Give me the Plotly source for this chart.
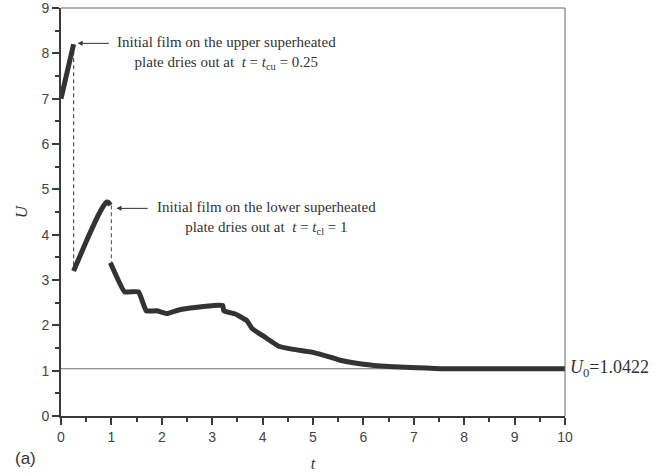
import plotly.graph_objects as go

# Dimensionless time and velocity for the three film stages
t_stage1 = [0.0, 0.25]
u_stage1 = [7.0, 8.2]

t_stage2 = [0.25, 0.5, 0.75, 0.86, 0.91, 0.95, 0.98]
u_stage2 = [3.2, 3.85, 4.45, 4.66, 4.72, 4.70, 4.65]

t_stage3 = [0.98, 1.26, 1.54, 1.69, 1.9, 2.1, 2.37, 3.03, 3.21, 3.23, 3.46, 3.69, 3.79,
            4.02, 4.32, 4.61, 4.98, 5.34, 5.54, 6.0, 6.5, 6.93, 7.53, 8.0, 9.0, 10.0]
u_stage3 = [3.38, 2.74, 2.74, 2.32, 2.32, 2.26, 2.35, 2.44, 2.44, 2.32, 2.25, 2.1, 1.93,
            1.76, 1.54, 1.47, 1.41, 1.30, 1.23, 1.14, 1.09, 1.07, 1.045, 1.0422, 1.0422, 1.0422]

U0 = 1.0422
t_cu = 0.25
t_cl = 1.0

x_ticks = list(range(0, 11))
y_ticks = list(range(0, 10))

curve_color = "#333333"
serif = "Liberation Serif"
sans = "Liberation Sans"

fig = go.Figure()

# Steady-state reference level
fig.add_trace(go.Scatter(x=[0, 10], y=[U0, U0], mode="lines",
                         line=dict(color="#707070", width=1), hoverinfo="skip"))

# Dry-out jumps (dashed)
fig.add_trace(go.Scatter(x=[t_cu, t_cu], y=[u_stage1[-1], u_stage2[0]], mode="lines",
                         line=dict(color="#555555", width=1.2, dash="4px,3px")))
fig.add_trace(go.Scatter(x=[t_cl, t_cl], y=[u_stage2[-1], u_stage3[0]], mode="lines",
                         line=dict(color="#666666", width=1.2, dash="4px,3px")))

for tx, uy in [(t_stage1, u_stage1), (t_stage2, u_stage2), (t_stage3, u_stage3)]:
    fig.add_trace(go.Scatter(x=tx, y=uy, mode="lines",
                             line=dict(color=curve_color, width=5, shape="spline",
                                       smoothing=0.3)))

ann_font = dict(family=serif, size=15, color="#333333")

# Arrows pointing at the dry-out instants
fig.add_annotation(x=0.33, y=8.22, ax=0.98, ay=8.22,
                   axref="x", ayref="y", xref="x", yref="y", text="",
                   showarrow=True, arrowhead=2, arrowsize=1, arrowwidth=1,
                   arrowcolor="#333333")
fig.add_annotation(x=1.10, y=4.58, ax=1.75, ay=4.58,
                   axref="x", ayref="y", xref="x", yref="y", text="",
                   showarrow=True, arrowhead=2, arrowsize=1, arrowwidth=1,
                   arrowcolor="#333333")

fig.add_annotation(x=1.08, y=8.0, xref="x", yref="y", xanchor="left", yanchor="middle",
                   showarrow=False, align="center", font=ann_font,
                   text="Initial film on the upper superheated<br>"
                        "plate dries out at  <i>t</i> = <i>t</i><sub>cu</sub> = 0.25")
fig.add_annotation(x=1.87, y=4.36, xref="x", yref="y", xanchor="left", yanchor="middle",
                   showarrow=False, align="center", font=ann_font,
                   text="Initial film on the lower superheated<br>"
                        "plate dries out at  <i>t</i> = <i>t</i><sub>cl</sub> = 1")

fig.add_annotation(x=10, y=U0, xref="x", yref="y", xanchor="left", yanchor="middle",
                   xshift=3, showarrow=False,
                   font=dict(family=serif, size=18, color="#333333"),
                   text="<i>U</i><sub>0</sub>=1.0422")

fig.add_annotation(x=0.0, y=0.0, xref="paper", yref="paper", xanchor="left",
                   yanchor="middle", xshift=-48, yshift=-42, showarrow=False,
                   font=dict(family=sans, size=17, color="#333333"), text="(a)")

# Thin frame on the top and right sides
fig.add_shape(type="line", xref="paper", yref="paper", x0=0, x1=1, y0=1, y1=1,
              line=dict(color="#666666", width=1))
fig.add_shape(type="line", xref="paper", yref="paper", x0=1, x1=1, y0=0, y1=1,
              line=dict(color="#666666", width=1))

axis_common = dict(showgrid=False, zeroline=False, showline=True, linecolor="#3a3a3a",
                   linewidth=1.8, mirror=False, ticks="outside", ticklen=7,
                   tickcolor="#3a3a3a", tickwidth=1.5, automargin=False,
                   ticklabeloverflow="allow",
                   tickfont=dict(family=sans, size=14, color="#444444"))

minor_ticks = dict(dtick=0.5, tick0=0, ticks="outside", ticklen=4,
                   tickcolor="#3a3a3a", tickwidth=1.5)

fig.update_layout(
    width=667, height=476,
    margin=dict(l=61, r=102, t=8, b=60),
    paper_bgcolor="white", plot_bgcolor="white",
    showlegend=False,
    xaxis=dict(range=[0, 10], tickvals=x_ticks, ticktext=[str(v) for v in x_ticks],
               minor=minor_ticks,
               title=dict(text="<i>t</i>", font=dict(family=serif, size=16, color="#333333"),
                          standoff=14),
               **axis_common),
    yaxis=dict(range=[0, 9], tickvals=y_ticks, ticktext=[str(v) for v in y_ticks],
               minor=minor_ticks,
               title=dict(text="<i>U</i>", font=dict(family=serif, size=17, color="#333333"),
                          standoff=10),
               **axis_common),
)

fig.write_html("out.html")
